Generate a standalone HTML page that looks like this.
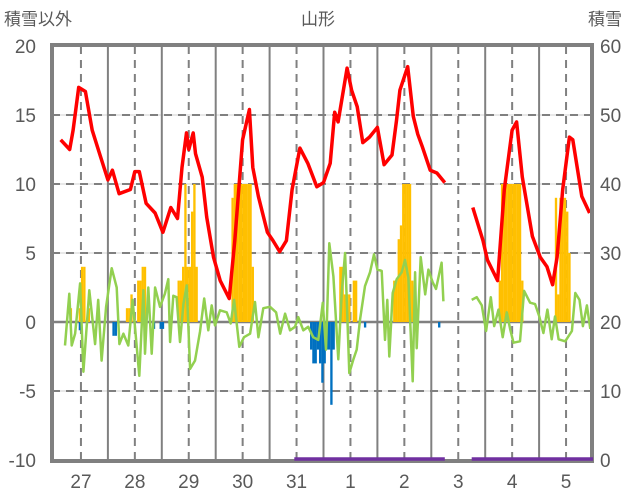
<!DOCTYPE html>
<html><head><meta charset="utf-8">
<style>
html,body{margin:0;padding:0;background:#fff;}
svg{display:block;font-family:"Liberation Sans","Noto Sans CJK JP",sans-serif;}
</style></head>
<body>
<svg id="chart" width="636" height="501" viewBox="0 0 636 501" xmlns="http://www.w3.org/2000/svg">
<text x="4" y="25" font-size="17" fill="#595959">積雪以外</text>
<text x="318" y="25" font-size="17" fill="#595959" text-anchor="middle">山形</text>
<text x="588" y="25" font-size="17" fill="#595959">積雪</text>
<g id="grid"></g>
<g id="bars"></g>
<g id="lines"></g>
<g id="axes"></g>
<g id="overlay"></g>
</svg>
<script>
// ---- data ----
const dayLabels = ["27","28","29","30","31","1","2","3","4","5"];
const leftTicks = [20,15,10,5,0,-5,-10];
const rightTicks = [60,50,40,30,20,10,0];
// temperature (red), hours from 27th 00:00
const tempHours = [3,7,8.5,11,14,17,20.5,24,26,29,34,36,38,41,45,48.5,52,55,57,59,60,62,63,66,68,71,74,78,80.5,84,87,88.5,91,95,97.5,100.5,103.5,106,109.5,113,117,120,123,125,126.5,130.5,132.5,135,137.5,140.5,144,147,150.5,152.5,154,157.5,160,162,164,167.5,170.5,174,null,186.5,191,193,197.5,200.5,204,206,208.5,213,216.5,219.5,222,224,226.5,229.5,231,235,238.5];
const tempVals = [13.2,12.5,13.9,17.0,16.7,13.9,12.1,10.3,11.0,9.3,9.6,10.9,10.9,8.6,7.9,6.5,8.3,7.5,11.2,13.7,12.5,13.7,12.2,10.5,7.6,4.7,3.0,1.7,5.9,13.2,15.4,11.2,9.1,6.5,5.9,5.1,5.9,9.6,12.6,11.5,9.8,10.1,11.5,15.2,14.5,18.4,16.8,15.6,13.0,13.4,14.1,11.4,12.1,14.6,16.8,18.5,14.9,13.6,12.7,11.0,10.8,10.1,null,8.3,5.9,4.5,3.0,9.6,13.9,14.5,10.5,6.2,4.7,4.0,2.7,4.7,9.6,13.4,13.2,9.1,7.9];
// wind/other (green)
const greenHours = [4.9,6.8,7.9,9.4,11.6,13.1,15.7,18.3,19.7,21.2,23.2,25.7,27.9,29.1,30.9,33.1,35,38,39.8,40.5,42,43.5,45,47.2,49.4,50.9,51.7,53.1,54.6,56.1,57.6,59.1,60.6,62.8,65,66.9,68.7,70.2,71.7,73.9,76.9,78.7,80.2,82.5,84.6,87.3,89.5,91,93.2,96.2,98.9,100.7,102.9,105.1,107.3,108.8,111,113.2,115.4,117.7,119.7,121.1,122.6,124.4,126.6,128.1,129.6,131.5,133.3,134.8,136.3,138.5,140.7,142.5,144,145.9,147.4,148.4,149.3,150.8,152.6,154.8,156.3,157.8,159.7,160.8,161.5,163.3,165.3,166.7,168.6,170.1,172.6,173.4,null,186,188.2,190.5,192.4,194.5,196,197.9,199.8,201.6,203.1,204.6,207.5,209.3,212,214.2,216.1,217.9,219.7,221.6,223.1,224.7,227.6,230.6,232.1,234,235.5,237.3,238.8];
const greenVals = [-1.7,2.05,-1.7,-0.85,2.8,-3.6,2.3,-1.6,1.6,-2.8,1.1,3.9,2.5,-1.6,-0.85,-1.7,1.6,-3.9,2.3,-2.3,2.5,-2.3,2.5,1.1,2.05,3.1,-1.45,1.9,1.8,-1.45,1.3,2.65,-3.4,-2.8,-0.7,1.7,-0.6,1.2,-0.25,0.85,0.7,-0.1,1.6,-1.8,-1.1,-0.85,1.45,-1.1,1.0,1.1,0.7,-0.85,0.6,-0.6,-0.35,0.35,-0.6,-0.35,-1.1,-1.3,1.4,-2.0,5.7,3.3,-2.7,2.1,5.0,-3.7,-2.7,-2.0,0.2,2.6,3.6,4.9,3.8,3.7,-1.3,1.6,-2.5,2.1,3.1,3.6,4.5,3.2,-4.3,3.6,-1.9,4.7,2.0,3.8,2.9,2.4,4.3,1.5,null,1.6,1.8,1.2,-0.65,1.8,-0.3,0.9,-1.1,0.7,-0.5,-1.5,-1.4,2.25,1.4,1.3,0.4,-0.8,0.9,-1.25,0.4,-1.25,-1.4,-0.65,2.1,1.6,-0.3,1.2,-0.5];
// snowfall (orange), hourly
const snowHours = [7,11,12,13,15,32,33,34,37,38,39,40,55,56,57,58,59,60,61,62,63,79,80,81,82,83,84,85,86,87,88,127,128,129,130,131,133,134,151,152,153,154,155,156,157,158,159,198,199,200,201,202,203,204,205,206,207,208,223,224,225,226,227,228,229];
const snowVals = [1,1,4,4,1,1,1,2,3,3,4,4,3,3,4,10,4,4,8,10,4,9,10,10,10,10,10,10,10,10,4,4,4,2,2,2,3,3,3,3,6,7,10,10,10,10,3,3,10,10,10,10,10,10,10,10,10,3,9,2,9,9,9,8,5];
// snow-depth decrease (blue), hourly
const meltHours = [11,26,27,44,47,48,114,115,116,117,118,119,120,121,122,123,124,138,171];
const meltVals = [-0.6,-1,-1,-0.5,-0.5,-0.5,-2,-3,-3,-2,-3,-4.4,-3,-2,-2,-6,-2,-0.4,-0.4];
// snow depth (purple, right axis)
const depthHours = [107,174,null,186,240];
const depthVals = [0,0,null,0,0];

// ---- scales ----
const X0=54, PX_PER_HOUR=53.9/24, PLOT_L=52, PLOT_R=592, PLOT_T=46, PLOT_B=460;
const xs = h => X0 + h*PX_PER_HOUR;
const yL = v => 322 - v*13.8;
const yR = v => 459 - v*6.9;
const NS="http://www.w3.org/2000/svg";
function mk(tag, parent, attrs){const e=document.createElementNS(NS,tag);for(const k in attrs)e.setAttribute(k,attrs[k]);parent.appendChild(e);return e;}
const gridG=document.getElementById('grid'), barsG=document.getElementById('bars'), linesG=document.getElementById('lines'), axesG=document.getElementById('axes'), topG=document.getElementById('overlay');

// horizontal grid
leftTicks.forEach(t=>{
  if(t===20||t===-10) return;
  const y=yL(t);
  if(t===0){const l=mk('line',gridG,{x1:PLOT_L,x2:PLOT_R,y1:y,y2:y,stroke:'#808080','stroke-width':2.5});
    
    }
  else{mk('line',gridG,{x1:PLOT_L,x2:PLOT_R,y1:y,y2:y,stroke:'#d0d0d0','stroke-width':1});
    const l=mk('line',gridG,{x1:PLOT_L,x2:PLOT_R,y1:y,y2:y,stroke:'#808080','stroke-width':2,'stroke-dasharray':'8,6'});
    
    }
});
// vertical grid
for(let d=0; d<10; d++){
  const xn=xs(d*24+12);
  const l=mk('line',gridG,{x1:xn,x2:xn,y1:PLOT_T,y2:PLOT_B,stroke:'#808080','stroke-width':2,'stroke-dasharray':'8,6'});
  
  
  if(d>0){const xm=xs(d*24);
    const m=mk('line',gridG,{x1:xm,x2:xm,y1:PLOT_T,y2:PLOT_B,stroke:'#808080','stroke-width':2});
    
    }
}
// bars
const bw=PX_PER_HOUR+0.1;
snowHours.forEach((h,i)=>{
  const v=snowVals[i];
  const r=mk('rect',barsG,{x:xs(h),y:yL(v),width:bw,height:yL(0)-yL(v),fill:'#ffc000'});
  
  
});
meltHours.forEach((h,i)=>{
  const v=meltVals[i];
  const r=mk('rect',barsG,{x:xs(h),y:yL(0),width:bw,height:yL(v)-yL(0),fill:'#0070c0'});
  
  
});
// lines
function pathFrom(hs,vs,yf){let d='',pen=false;hs.forEach((h,i)=>{if(h===null||vs[i]===null){pen=false;return;}d+=(pen?'L':'M')+xs(h).toFixed(1)+','+yf(vs[i]).toFixed(1);pen=true;});return d;}
const gl=mk('path',linesG,{d:pathFrom(greenHours,greenVals,yL),fill:'none',stroke:'#92d050','stroke-width':2.5,'stroke-linejoin':'round'});


const rl=mk('path',linesG,{d:pathFrom(tempHours,tempVals,yL),fill:'none',stroke:'#ff0000','stroke-width':3.5,'stroke-linejoin':'round'});


// border
const b=mk('rect',axesG,{x:PLOT_L,y:PLOT_T-1,width:PLOT_R-PLOT_L,height:PLOT_B-PLOT_T+2,fill:'none',stroke:'#808080','stroke-width':4});


// snow depth drawn on top of border
const pl=mk('path',topG,{d:pathFrom(depthHours,depthVals,yR),fill:'none',stroke:'#7030a0','stroke-width':3.5});


// tick labels
leftTicks.forEach(t=>{
  const e=mk('text',axesG,{x:36,y:yL(t)+7,'font-size':19,fill:'#595959','text-anchor':'end'});
  e.textContent=t;
  
  
});
rightTicks.forEach(t=>{
  const e=mk('text',axesG,{x:600,y:yR(t)+8,'font-size':19,fill:'#595959'});
  e.textContent=t;
  
  
});
dayLabels.forEach((s,i)=>{
  const e=mk('text',axesG,{x:xs(i*24+12),y:488,'font-size':19,fill:'#595959','text-anchor':'middle'});
  e.textContent=s;
  
  
});
</script>
</body></html>
